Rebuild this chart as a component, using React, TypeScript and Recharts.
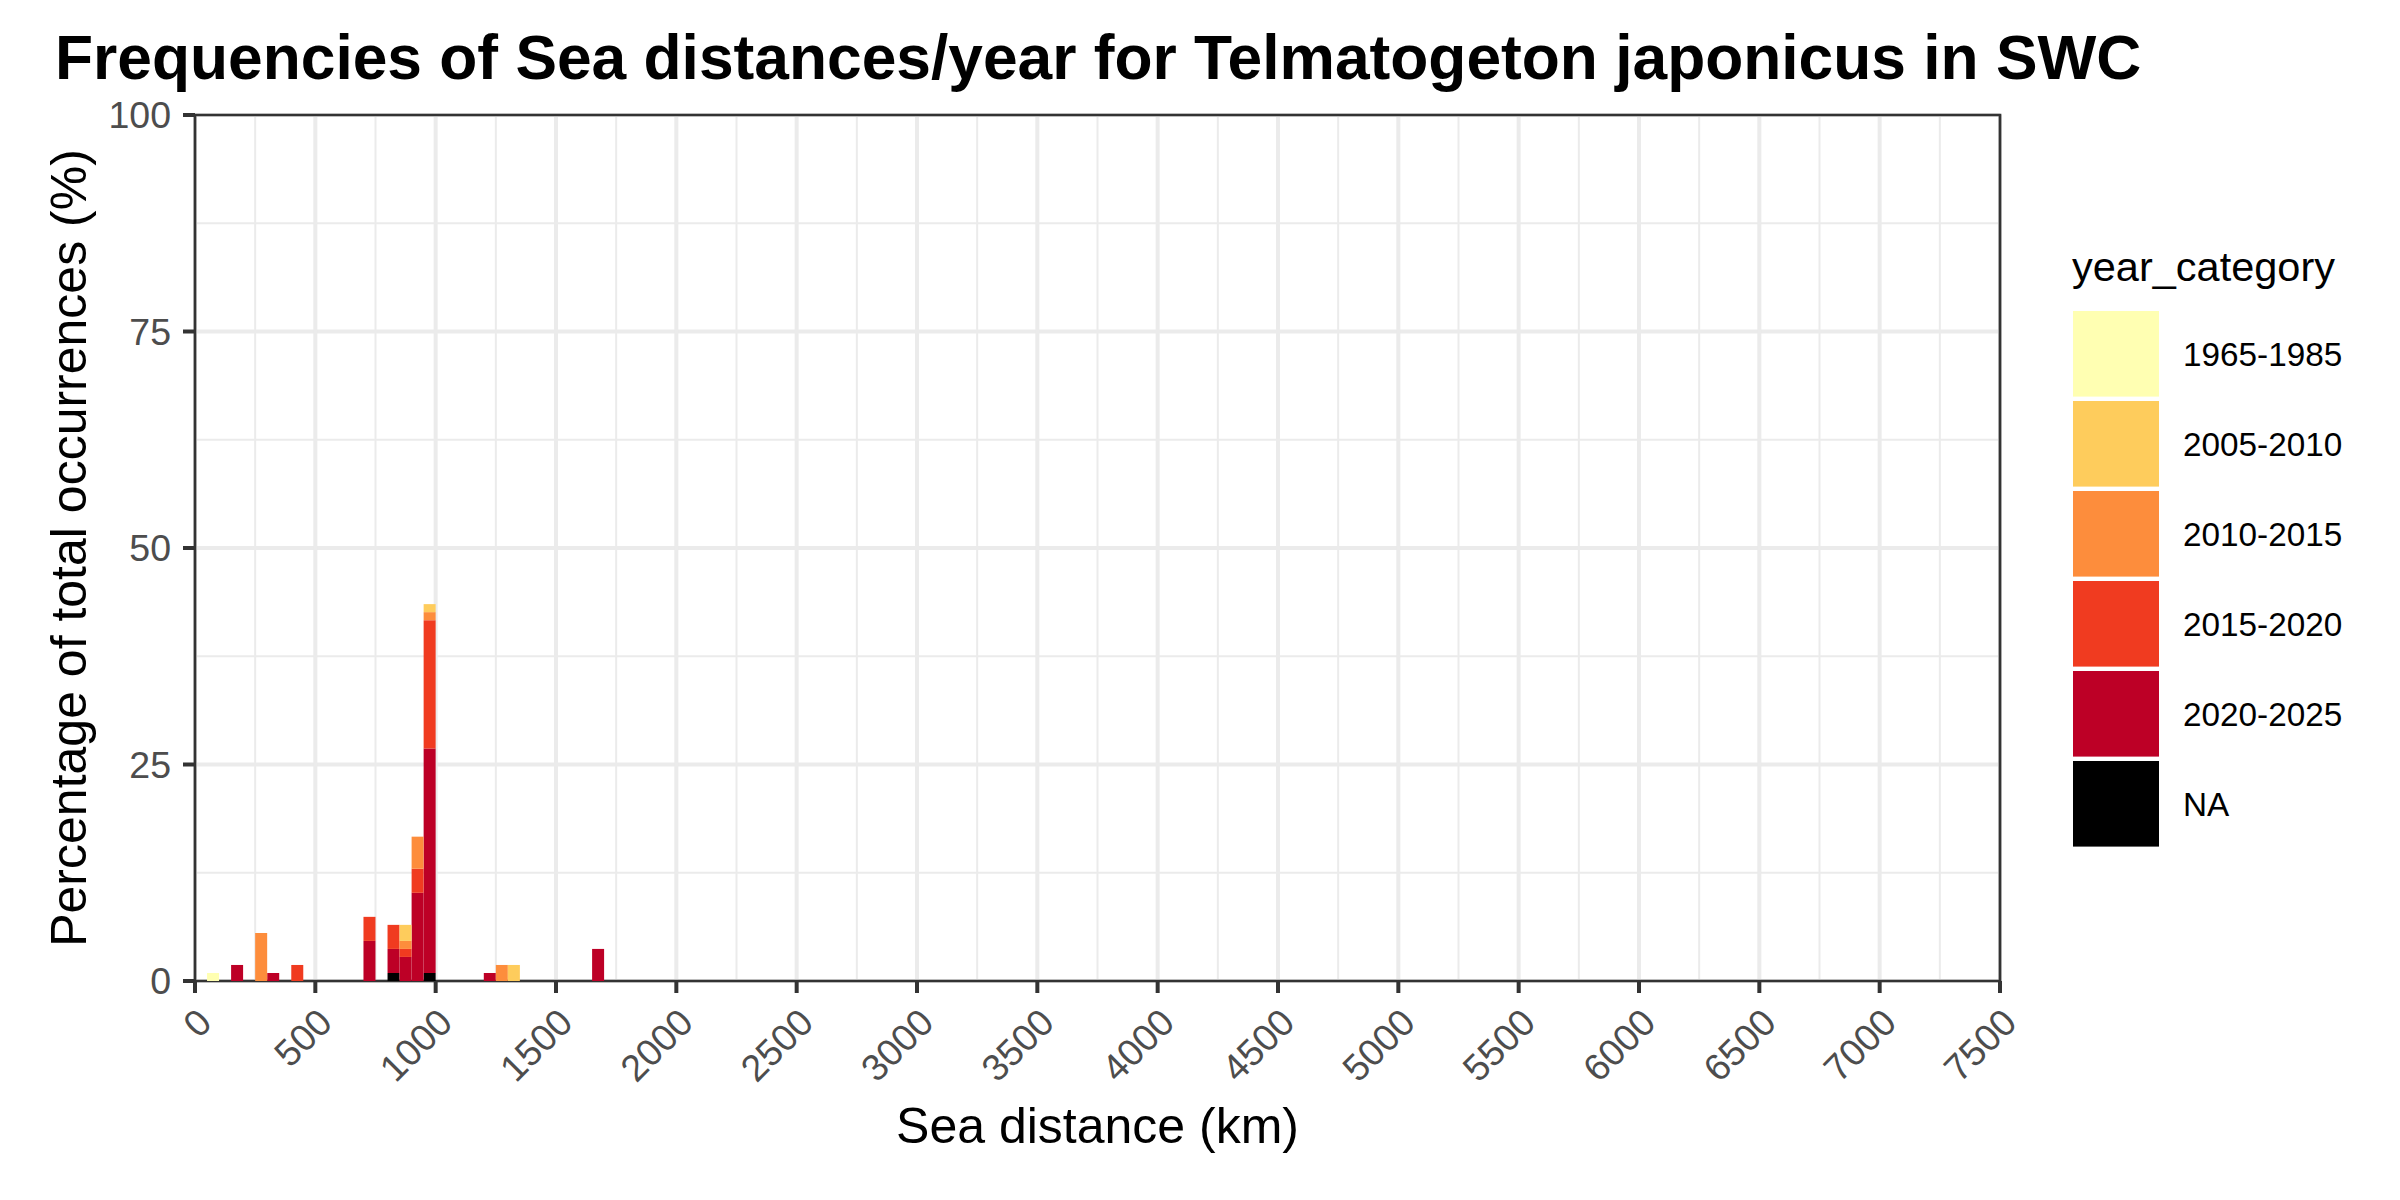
import React from "react";
import {
  BarChart,
  Bar,
  XAxis,
  YAxis,
  CartesianGrid,
  ReferenceArea,
  Legend,
} from "recharts";

// Bin starts (km), binwidth 50 km
const binStarts = [50, 150, 250, 300, 400, 700, 800, 850, 900, 950, 1200, 1250, 1300, 1650];
// Percentage of total occurrences per bin and year category
const pct1965 = [0.926, 0, 0, 0, 0, 0, 0, 0, 0, 0, 0, 0, 0, 0];
const pct2005 = [0, 0, 0, 0, 0, 0, 0, 1.852, 0, 0.926, 0, 0, 1.852, 0];
const pct2010 = [0, 0, 5.556, 0, 0, 0, 0, 0.926, 3.704, 0.926, 0, 1.852, 0, 0];
const pct2015 = [0, 0, 0, 0, 1.852, 2.778, 2.778, 0.926, 2.778, 14.815, 0, 0, 0, 0];
const pct2020 = [0, 1.852, 0, 0.926, 0, 4.63, 2.778, 2.778, 10.185, 25.926, 0.926, 0, 0, 3.704];
const pctNA = [0, 0, 0, 0, 0, 0, 0.926, 0, 0, 0.926, 0, 0, 0, 0];

const BIN_WIDTH = 50;
const categories = ["1965-1985", "2005-2010", "2010-2015", "2015-2020", "2020-2025", "NA"];
const colors = ["#FFFFB2", "#FECC5C", "#FD8D3C", "#F03B20", "#BD0026", "#000000"];

const xTicks = [0, 500, 1000, 1500, 2000, 2500, 3000, 3500, 4000, 4500, 5000, 5500, 6000, 6500, 7000, 7500];
const xMinor = [250, 750, 1250, 1750, 2250, 2750, 3250, 3750, 4250, 4750, 5250, 5750, 6250, 6750, 7250];
const yTicks = [0, 25, 50, 75, 100];
const yMinor = [12.5, 37.5, 62.5, 87.5];

const data = binStarts.map((s, i) => ({
  mid: s + BIN_WIDTH / 2,
  "1965-1985": pct1965[i],
  "2005-2010": pct2005[i],
  "2010-2015": pct2010[i],
  "2015-2020": pct2015[i],
  "2020-2025": pct2020[i],
  NA: pctNA[i],
}));

const FONT = "'Liberation Sans', Arial, Helvetica, sans-serif";

const XTick = (props: any) => {
  const { x, y, payload } = props;
  return (
    <g transform={`translate(${x},${y})`}>
      <text
        transform="rotate(-45)"
        textAnchor="end"
        dy="0.71em"
        fontSize={37.5}
        fill="#4D4D4D"
        fontFamily={FONT}
      >
        {payload.value}
      </text>
    </g>
  );
};

const LegendContent = () => (
  <svg width={340} height={640} style={{ display: "block" }}>
    <text x={32} y={51} fontSize={41.5} fill="#000" fontFamily={FONT}>
      year_category
    </text>
    {categories.map((c, i) => {
      const top = 81 + i * 90;
      return (
        <g key={c}>
          <rect x={33} y={top} width={86} height={85.6} fill={colors[i]} />
          <text
            x={143}
            y={top + 42.8}
            dy="0.355em"
            fontSize={33.3}
            fill="#000"
            fontFamily={FONT}
          >
            {c}
          </text>
        </g>
      );
    })}
  </svg>
);

export default function App() {
  // stack order: NA at bottom, 1965-1985 on top
  const stackOrder = [5, 4, 3, 2, 1, 0];
  return (
    <div style={{ position: "absolute", left: 0, top: 0, width: 2400, height: 1200, background: "#fff" }}>
      <div
        style={{
          position: "absolute",
          left: 55,
          top: 27,
          fontFamily: FONT,
          fontWeight: 700,
          fontSize: 62.3,
          lineHeight: "62px",
          whiteSpace: "nowrap",
          color: "#000",
        }}
      >
        Frequencies of Sea distances/year for Telmatogeton japonicus in SWC
      </div>
      <div style={{ position: "absolute", left: 0, top: 0 }}>
        <BarChart
          width={2400}
          height={1200}
          data={data}
          margin={{ top: 115, right: 400, bottom: 0, left: 0 }}
          barGap={0}
          style={{ fontFamily: FONT }}
        >
          <CartesianGrid
            stroke="#EBEBEB"
            strokeWidth={2}
            horizontalValues={yMinor}
            verticalValues={xMinor}
          />
          <CartesianGrid
            stroke="#EBEBEB"
            strokeWidth={4}
            horizontalValues={yTicks}
            verticalValues={xTicks}
          />
          <XAxis
            dataKey="mid"
            type="number"
            domain={[0, 7500]}
            ticks={xTicks}
            allowDataOverflow
            height={219}
            axisLine={false}
            tickLine={{ stroke: "#333333", strokeWidth: 4 }}
            tickSize={12}
            tickMargin={13}
            tick={<XTick />}
            interval={0}
            label={{
              content: (p: any) => {
                const vb = p.viewBox;
                return (
                  <text
                    x={vb.x + vb.width / 2}
                    y={1143}
                    textAnchor="middle"
                    fontSize={50}
                    fill="#000"
                    fontFamily={FONT}
                  >
                    Sea distance (km)
                  </text>
                );
              },
            }}
          />
          <YAxis
            type="number"
            domain={[0, 100]}
            ticks={yTicks}
            allowDataOverflow
            width={195}
            axisLine={false}
            tickLine={{ stroke: "#333333", strokeWidth: 4 }}
            tickSize={12}
            tickMargin={12}
            tick={{ fill: "#4D4D4D", fontSize: 37.5, fontFamily: FONT }}
            interval={0}
            label={{
              content: (p: any) => {
                const vb = p.viewBox;
                const cy = vb.y + vb.height / 2;
                return (
                  <text
                    x={86}
                    y={cy}
                    transform={`rotate(-90, 86, ${cy})`}
                    textAnchor="middle"
                    fontSize={50}
                    fill="#000"
                    fontFamily={FONT}
                  >
                    Percentage of total occurrences (%)
                  </text>
                );
              },
            }}
          />
          {stackOrder.map((i) => (
            <Bar
              key={categories[i]}
              dataKey={categories[i]}
              stackId="a"
              fill={colors[i]}
              barSize={12}
              isAnimationActive={false}
              legendType="none"
            />
          ))}
          <ReferenceArea
            x1={0}
            x2={7500}
            y1={0}
            y2={100}
            fill="none"
            fillOpacity={0}
            stroke="#333333"
            strokeWidth={2.7}
            ifOverflow="visible"
          />
          <Legend
            layout="vertical"
            align="center"
            verticalAlign="middle"
            content={<LegendContent />}
            wrapperStyle={{ left: 2040, top: 230, width: 340, height: 640 }}
          />
        </BarChart>
      </div>
    </div>
  );
}
